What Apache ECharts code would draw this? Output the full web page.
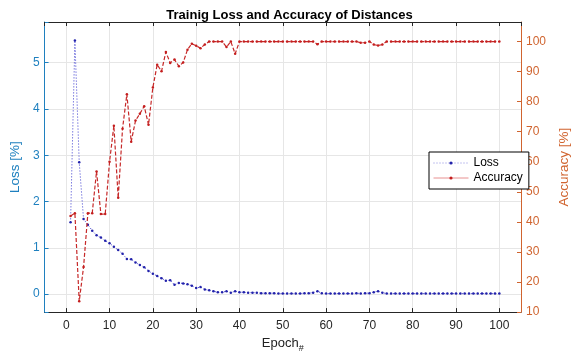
<!DOCTYPE html>
<html>
<head>
<meta charset="utf-8">
<script src="https://cdn.jsdelivr.net/npm/echarts@6/dist/echarts.min.js"></script>
<style>
  html, body { margin: 0; padding: 0; background: #fff; }
  #chart { width: 579px; height: 358px; }
</style>
</head>
<body>
<div id="chart"></div>
<script>
// epochs 1..100
var epochs = [];
for (var e = 1; e <= 100; e++) { epochs.push(e); }

var lossValues = [
  1.55, 5.48, 2.85, 1.62, 1.50, 1.37, 1.27, 1.22, 1.15, 1.10,
  1.02, 0.95, 0.87, 0.76, 0.75, 0.68, 0.63, 0.58, 0.50, 0.44,
  0.39, 0.34, 0.29, 0.30, 0.20, 0.24, 0.23, 0.21, 0.18, 0.13,
  0.15, 0.10, 0.08, 0.06, 0.04, 0.04, 0.06, 0.03, 0.06, 0.04,
  0.04, 0.03, 0.03, 0.03, 0.02, 0.02, 0.02, 0.02, 0.01, 0.01,
  0.01, 0.01, 0.01, 0.01, 0.02, 0.02, 0.03, 0.06, 0.02, 0.01,
  0.01, 0.01, 0.01, 0.01, 0.01, 0.01, 0.02, 0.01, 0.02, 0.02,
  0.04, 0.06, 0.03, 0.01, 0.01, 0.01, 0.01, 0.01, 0.01, 0.01,
  0.01, 0.01, 0.01, 0.01, 0.01, 0.01, 0.01, 0.01, 0.01, 0.01,
  0.01, 0.01, 0.01, 0.01, 0.01, 0.01, 0.01, 0.01, 0.01, 0.01
];

var accuracyValues = [
  42.0, 42.9, 13.6, 25.0, 42.9, 42.9, 56.8, 42.6, 42.6, 60.0,
  72.0, 48.0, 71.0, 82.5, 66.7, 73.7, 76.0, 78.5, 72.3, 84.7,
  92.3, 90.1, 96.5, 92.9, 94.0, 91.8, 93.0, 97.3, 99.3, 98.6,
  97.8, 99.0, 100, 100, 100, 100, 98.2, 100, 95.9, 100,
  100, 100, 100, 100, 100, 100, 100, 100, 100, 100,
  100, 100, 100, 100, 100, 100, 100, 99.1, 100, 100,
  100, 100, 100, 100, 100, 100, 100, 99.6, 99.6, 100,
  99.0, 98.7, 99.0, 100, 100, 100, 100, 100, 100, 100,
  100, 100, 100, 100, 100, 100, 100, 100, 100, 100,
  100, 100, 100, 100, 100, 100, 100, 100, 100, 100
];

var font = 'Liberation Sans, Arial, sans-serif';
var leftColor = '#1f80bf';
var rightColor = '#d0642f';
var gridColor = '#e6e6e6';

function pairs(xs, ys){
  var out = [];
  for (var i = 0; i < xs.length; i++) { out.push([xs[i], ys[i]]); }
  return out;
}

function intLabel(v){
  return Math.abs(v - Math.round(v)) < 1e-6 ? String(Math.round(v)) : '';
}

var chart = echarts.init(document.getElementById('chart'));

chart.setOption({
  animation: false,
  backgroundColor: '#fff',
  title: {
    text: 'Trainig Loss and Accuracy of Distances',
    left: 'center',
    top: 4,
    textStyle: { fontFamily: font, fontSize: 13, fontWeight: 'bold', color: '#000' }
  },
  legend: {
    orient: 'vertical',
    left: 429,
    top: 152,
    width: 95,
    padding: [4, 6, 4, 4],
    itemGap: 1,
    itemWidth: 35,
    itemHeight: 4,
    backgroundColor: '#fff',
    borderColor: '#000',
    borderWidth: 1,
    borderRadius: 0,
    textStyle: { fontFamily: font, fontSize: 12, color: '#000', lineHeight: 14 },
    data: [
      { name: 'Loss', lineStyle: { type: [1, 2], color: '#8888e0', width: 1 } },
      { name: 'Accuracy', lineStyle: { type: 'solid', color: '#e89090', width: 1 } }
    ]
  },
  grid: { left: 39, right: 47, top: 22, bottom: 42, containLabel: false },
  xAxis: [{
    type: 'value',
    min: -5,
    max: 105,
    splitNumber: 11,
    name: '{a|Epoch}{b|#}',
    nameLocation: 'middle',
    nameGap: 24,
    nameTextStyle: {
      fontFamily: font,
      rich: {
        a: { fontFamily: font, fontSize: 13, color: '#222', verticalAlign: 'top', lineHeight: 16 },
        b: { fontFamily: font, fontSize: 9, color: '#222', verticalAlign: 'bottom', lineHeight: 16, padding: [0, 0, 0, 0] }
      }
    },
    axisLine: { onZero: false, lineStyle: { color: '#262626', width: 1 } },
    axisTick: { inside: true, length: 4, lineStyle: { color: '#262626' } },
    axisLabel: { formatter: intLabel, showMinLabel: false, showMaxLabel: false, margin: 8,
      fontFamily: font, fontSize: 12, color: '#262626' },
    splitLine: { show: true, lineStyle: { color: gridColor, width: 1 } }
  }, {
    type: 'value',
    position: 'top',
    min: -5,
    max: 105,
    splitNumber: 11,
    axisLine: { onZero: false, lineStyle: { color: '#262626', width: 1 } },
    axisTick: { inside: true, length: 4, lineStyle: { color: '#262626' } },
    axisLabel: { show: false },
    splitLine: { show: false }
  }],
  yAxis: [{
    type: 'value',
    position: 'left',
    min: -0.39,
    max: 5.88,
    splitNumber: 6,
    name: 'Loss [%]',
    nameLocation: 'middle',
    nameRotate: 90,
    nameGap: 15,
    nameTextStyle: { fontFamily: font, fontSize: 13.5, color: leftColor },
    axisLine: { show: true, onZero: false, lineStyle: { color: leftColor, width: 1 } },
    axisTick: { show: true, inside: true, length: 4, lineStyle: { color: leftColor } },
    axisLabel: { formatter: intLabel, margin: 5, fontFamily: font, fontSize: 12, color: leftColor },
    splitLine: { show: true, lineStyle: { color: gridColor, width: 1 } }
  }, {
    type: 'value',
    position: 'right',
    min: 10,
    max: 106.5,
    interval: 10,
    name: 'Accuracy [%]',
    nameLocation: 'middle',
    nameRotate: 90,
    nameGap: 36,
    nameTextStyle: { fontFamily: font, fontSize: 13.5, color: rightColor },
    axisLine: { show: true, onZero: false, lineStyle: { color: rightColor, width: 1 } },
    axisTick: { show: true, inside: true, length: 4, lineStyle: { color: rightColor } },
    axisLabel: { formatter: intLabel, showMaxLabel: false, margin: 5, fontFamily: font, fontSize: 12, color: rightColor },
    splitLine: { show: false }
  }],
  series: [{
    name: 'Loss',
    type: 'line',
    xAxisIndex: 0,
    yAxisIndex: 0,
    data: pairs(epochs, lossValues),
    symbol: 'circle',
    symbolSize: 2.5,
    showSymbol: true,
    itemStyle: { color: '#2222aa' },
    lineStyle: { color: '#3a3ad0', width: 1, type: [1, 2] },
    z: 3
  }, {
    name: 'Accuracy',
    type: 'line',
    xAxisIndex: 0,
    yAxisIndex: 1,
    data: pairs(epochs, accuracyValues),
    symbol: 'circle',
    symbolSize: 2.5,
    showSymbol: true,
    itemStyle: { color: '#c41e1e' },
    lineStyle: { color: '#c62828', width: 1.2, type: [4, 2] },
    z: 4
  }]
});
</script>
</body>
</html>
